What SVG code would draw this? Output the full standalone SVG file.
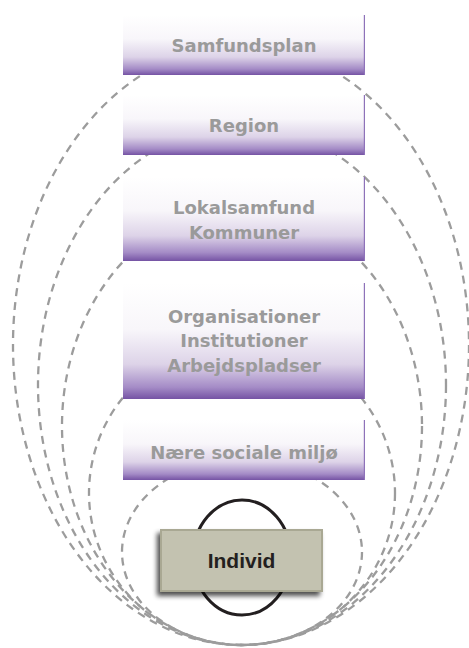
<svg xmlns="http://www.w3.org/2000/svg" width="469" height="648" viewBox="0 0 469 648">
<defs>
<linearGradient id="gv" x1="0" y1="0" x2="0" y2="1">
<stop offset="0" stop-color="#ffffff"/>
<stop offset="0.4" stop-color="#f8f6fa"/>
<stop offset="0.7" stop-color="#ddd3e8"/>
<stop offset="0.9" stop-color="#a48bc6"/>
<stop offset="1" stop-color="#7553a4"/>
</linearGradient>
<linearGradient id="gt" x1="0" y1="0" x2="1" y2="0">
<stop offset="0" stop-color="#8e72b9" stop-opacity="0"/>
<stop offset="0.35" stop-color="#8e72b9" stop-opacity="0.3"/>
<stop offset="1" stop-color="#8e72b9" stop-opacity="1"/>
</linearGradient>
<filter id="sh" x="-20%" y="-20%" width="140%" height="150%">
<feGaussianBlur in="SourceAlpha" stdDeviation="2.5"/>
<feOffset dx="-3" dy="4" result="b"/>
<feComponentTransfer><feFuncA type="linear" slope="0.7"/></feComponentTransfer>
<feMerge><feMergeNode/><feMergeNode in="SourceGraphic"/></feMerge>
</filter>
</defs>
<style>
.ring{fill:none;stroke:#9c9c9c;stroke-width:2.3;stroke-dasharray:8 6}
.box{fill:url(#gv)}
.edge{stroke:#8e72b9;stroke-width:1.2;fill:none}
.top{stroke:url(#gt);stroke-width:1.2}
.lbl{font-family:"DejaVu Sans",sans-serif;font-weight:bold;font-size:18px;fill:#9a9a9a;text-anchor:middle}
</style>
<rect width="469" height="648" fill="#ffffff"/>
<g id="connectors">
<ellipse class="ring" cx="241" cy="345" rx="228" ry="300"/>
<ellipse class="ring" cx="242" cy="385" rx="204" ry="260"/>
<ellipse class="ring" cx="242" cy="426" rx="180" ry="219"/>
<ellipse class="ring" cx="242" cy="493" rx="153" ry="152"/>
<ellipse class="ring" cx="242" cy="552" rx="120" ry="93"/>
<ellipse cx="242" cy="557.5" rx="49" ry="57.5" fill="none" stroke="#231f20" stroke-width="3"/>
</g>
<g id="samfundsplan">
<rect class="box" x="123" y="15" width="242" height="60"/>
<line class="top" x1="123" y1="15.6" x2="365" y2="15.6"/>
<line class="edge" x1="364.4" y1="15" x2="364.4" y2="75"/>
<text class="lbl" x="244" y="51.5">Samfundsplan</text>
</g>
<g id="region">
<rect class="box" x="123" y="95" width="242" height="60"/>
<line class="top" x1="123" y1="95.6" x2="365" y2="95.6"/>
<line class="edge" x1="364.4" y1="95" x2="364.4" y2="155"/>
<text class="lbl" x="244" y="131.5">Region</text>
</g>
<g id="lokalsamfund">
<rect class="box" x="123" y="177" width="242" height="84"/>
<line class="top" x1="123" y1="177.6" x2="365" y2="177.6"/>
<line class="edge" x1="364.4" y1="177" x2="364.4" y2="261"/>
<text class="lbl" x="244" y="214">Lokalsamfund</text>
<text class="lbl" x="244" y="239">Kommuner</text>
</g>
<g id="organisationer">
<rect class="box" x="123" y="283" width="242" height="116"/>
<line class="top" x1="123" y1="283.6" x2="365" y2="283.6"/>
<line class="edge" x1="364.4" y1="283" x2="364.4" y2="399"/>
<text class="lbl" x="244" y="322.5">Organisationer</text>
<text class="lbl" x="244" y="347">Institutioner</text>
<text class="lbl" x="244" y="371.5">Arbejdspladser</text>
</g>
<g id="naere">
<rect class="box" x="123" y="420" width="242" height="60"/>
<line class="top" x1="123" y1="420.6" x2="365" y2="420.6"/>
<line class="edge" x1="364.4" y1="420" x2="364.4" y2="480"/>
<text class="lbl" x="244" y="458.5">Nære sociale miljø</text>
</g>
<g id="individ">
<rect x="161" y="530" width="161" height="61" fill="#c3c2b0" stroke="#a9a893" stroke-width="2" filter="url(#sh)"/>
<text x="241.5" y="568" font-family="Liberation Sans, Arial, sans-serif" font-weight="bold" font-size="21" fill="#231f20" text-anchor="middle">Individ</text>
</g>
</svg>
